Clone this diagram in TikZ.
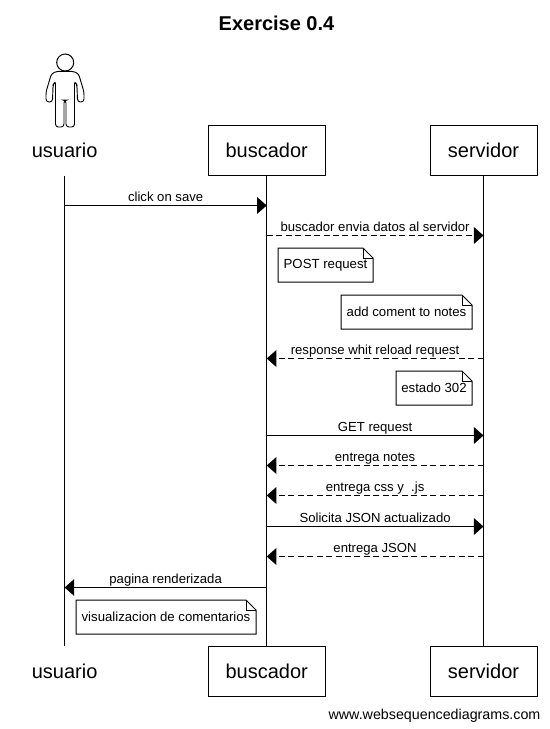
\documentclass[tikz,border=0pt]{standalone}
\usepackage{fontspec}
\setmainfont{Liberation Sans}
\usetikzlibrary{arrows.meta, positioning}
\tikzstyle{actor} = [minimum height=37.5pt, inner sep=0pt, font=\fontsize{15pt}{18pt}\selectfont]
\tikzstyle{block} = [actor, draw, fill=white, rectangle]
\tikzstyle{note} = [minimum height=24.75pt, inner sep=0pt, font=\fontsize{9.9pt}{12pt}\selectfont]
\tikzstyle{msg} = [above, inner sep=0pt, yshift=2.6pt, text height=8pt, text depth=0pt, font=\fontsize{9.85pt}{12pt}\selectfont]
\tikzstyle{reply} = [dash pattern=on 4.5pt off 2.6pt]
\newcommand{\notebox}[1]{
    \draw (#1.south west) -- (#1.south east) -- ([yshift=-7.5pt]#1.north east)
        -- ([xshift=-7.5pt]#1.north east) -- (#1.north west) -- cycle;
    \draw ([xshift=-7.5pt]#1.north east) -- ([xshift=-7.5pt,yshift=-7.5pt]#1.north east)
        -- ([yshift=-7.5pt]#1.north east);
}

\begin{document}
\begin{tikzpicture}[x=0.75pt, y=-0.75pt, line width=0.75pt, >={Triangle[length=7.2pt,width=12.5pt]}]
    \useasboundingbox (0,0) rectangle (550,729);
    \node [font=\bfseries\fontsize{15pt}{18pt}\selectfont] (title) at (276.5,23) {Exercise 0.4};
    % actors, top row
    \node [actor] (usuario) at (64.6,150) {usuario};
    \node [block, minimum width=87.75pt] (buscador) at (266.7,150) {buscador};
    \node [block, minimum width=80.25pt] (servidor) at (483.5,150) {servidor};
    % stick figure
    \node [circle, draw, minimum size=12.75pt, inner sep=0pt] (head) at (65.2,62.5) {};
    \draw [line width=0.7pt, rounded corners=2.2pt] (65,71.3) -- (73,71.3) -- (78.5,73.5) -- (84,92) -- (84,102)
        -- (77.5,102) -- (77,85) -- (74.5,81) -- (74.5,127) -- (66,127) -- (66,100)
        -- (64,100) -- (64,127) -- (55.5,127) -- (55.5,81) -- (53,85) -- (52.5,102)
        -- (46,102) -- (46,92) -- (51.5,73.5) -- (57,71.3) -- cycle;
    % actors, bottom row
    \node [actor] (usuario2) at (64.6,671) {usuario};
    \node [block, minimum width=87.75pt] (buscador2) at (266.7,671) {buscador};
    \node [block, minimum width=80.25pt] (servidor2) at (483.5,671) {servidor};
    % lifelines
    \draw (usuario) -- (usuario2);
    \draw (buscador) -- (buscador2);
    \draw (servidor) -- (servidor2);
    % message ends
    \foreach \n/\y in {1/205.5, 2/235.5, 3/358.5, 4/435.5, 5/465.5, 6/495.5, 7/526.5, 8/556.5, 9/587.5} {
        \coordinate (u\n) at (usuario |- 0,\y);
        \coordinate (b\n) at (buscador |- 0,\y);
        \coordinate (s\n) at (servidor |- 0,\y);
    }
    \draw [->] (u1) -- node [msg] {click on save} (b1);
    \draw [->, reply] (b2) -- node [msg] {buscador envia datos al servidor} (s2);
    \draw [->, reply] (s3) -- node [msg] {response whit reload request} (b3);
    \draw [->] (b4) -- node [msg] {GET request} (s4);
    \draw [->, reply] (s5) -- node [msg] {entrega notes} (b5);
    \draw [->, reply] (s6) -- node [msg] {entrega css y\ \ .js} (b6);
    \draw [->] (b7) -- node [msg] {Solicita JSON actualizado} (s7);
    \draw [->, reply] (s8) -- node [msg] {entrega JSON} (b8);
    \draw [->] (b9) -- node [msg] {pagina renderizada} (u9);
    % notes
    \node [note, minimum width=70.5pt] (post) at (325.5,265) {POST request};
    \node [note, minimum width=97.5pt] (coment) at (406.5,312) {add coment to notes};
    \node [note, minimum width=56.25pt] (estado) at (434,388) {estado 302};
    \node [note, minimum width=134.25pt] (visual) at (166,617) {visualizacion de comentarios};
    \foreach \n in {post, coment, estado, visual} {\notebox{\n}}
    \node [font=\fontsize{10.7pt}{12pt}\selectfont] (site) at (434.5,715.5) {www.websequencediagrams.com};
\end{tikzpicture}
\end{document}
